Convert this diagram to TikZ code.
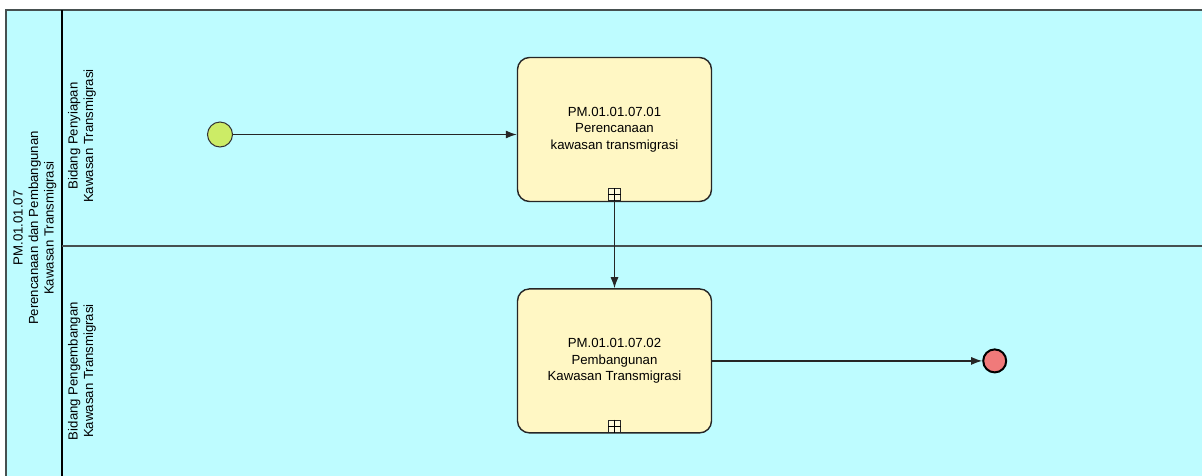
\documentclass[tikz,border=0pt]{standalone}
\usepackage{fontspec}
\setmainfont{Liberation Sans}
\usetikzlibrary{arrows.meta, positioning}
\definecolor{poolcyan}{RGB}{190,252,255}
\definecolor{taskyellow}{RGB}{255,247,196}
\definecolor{startgreen}{RGB}{204,236,102}
\definecolor{endred}{RGB}{240,122,122}
\definecolor{linegray}{RGB}{70,80,80}

\begin{document}
\begin{tikzpicture}[
  x=1pt, y=-1pt,
  font=\fontsize{13.2}{16.5}\selectfont,
  task/.style={rectangle, rounded corners=12pt, draw=black!85, line width=1.4pt, fill=taskyellow,
               minimum width=194pt, minimum height=144pt, align=center, inner sep=0pt},
  startev/.style={circle, draw=black!80, line width=1pt, fill=startgreen, minimum size=25pt, inner sep=0pt},
  endev/.style={circle, draw=black, line width=2pt, fill=endred, minimum size=23pt, inner sep=0pt},
  subproc/.style={rectangle, draw=black!85, line width=1pt, fill=taskyellow!60, minimum size=12pt, inner sep=0pt},
  flow/.style={-{Latex[length=11pt,width=8pt]}, line width=1.2pt, color=black!85},
  lanelabel/.style={rotate=90, align=center, font=\fontsize{13.2}{15.5}\selectfont}
]
\clip (0,0) rectangle (1202,475);
% --- Pool and lanes ---
\draw[line width=1.3pt, draw=linegray, fill=poolcyan] (6,10) rectangle (1215,500);
\draw[line width=2pt] (62,10) -- (62,500);
\draw[line width=1.5pt, draw=linegray] (62,246) -- (1215,246);

\node[lanelabel] (poolname) at (35,228) {PM.01.01.07\\Perencanaan dan Pembangunan\\Kawasan Transmigrasi};
\node[lanelabel] (lanea) at (82,136) {Bidang Penyiapan\\Kawasan Transmigrasi};
\node[lanelabel] (laneb) at (82,371) {Bidang Pengembangan\\Kawasan Transmigrasi};

% --- Tasks ---
\node[task] (taska) at (614.5,129.5) {PM.01.01.07.01\\Perencanaan\\kawasan transmigrasi};
\node[task, below=86pt of taska] (taskb) {PM.01.01.07.02\\Pembangunan\\Kawasan Transmigrasi};
\node[subproc, above=1pt of taska.south] (marka) {};
\node[subproc, above=1pt of taskb.south] (markb) {};
\draw[line width=1pt] (marka.north) -- (marka.south) (marka.west) -- (marka.east);
\draw[line width=1pt] (markb.north) -- (markb.south) (markb.west) -- (markb.east);

% --- Events ---
\node[startev] (start) at (220,134.5) {};
\node[endev, right=270pt of taskb] (end) {};

% --- Flows ---
\draw[flow] (start) -- (start -| taska.west);
\draw[flow] (marka.south) -- (taskb.north);
\draw[flow] (taskb) -- (end);

\end{tikzpicture}
\end{document}
